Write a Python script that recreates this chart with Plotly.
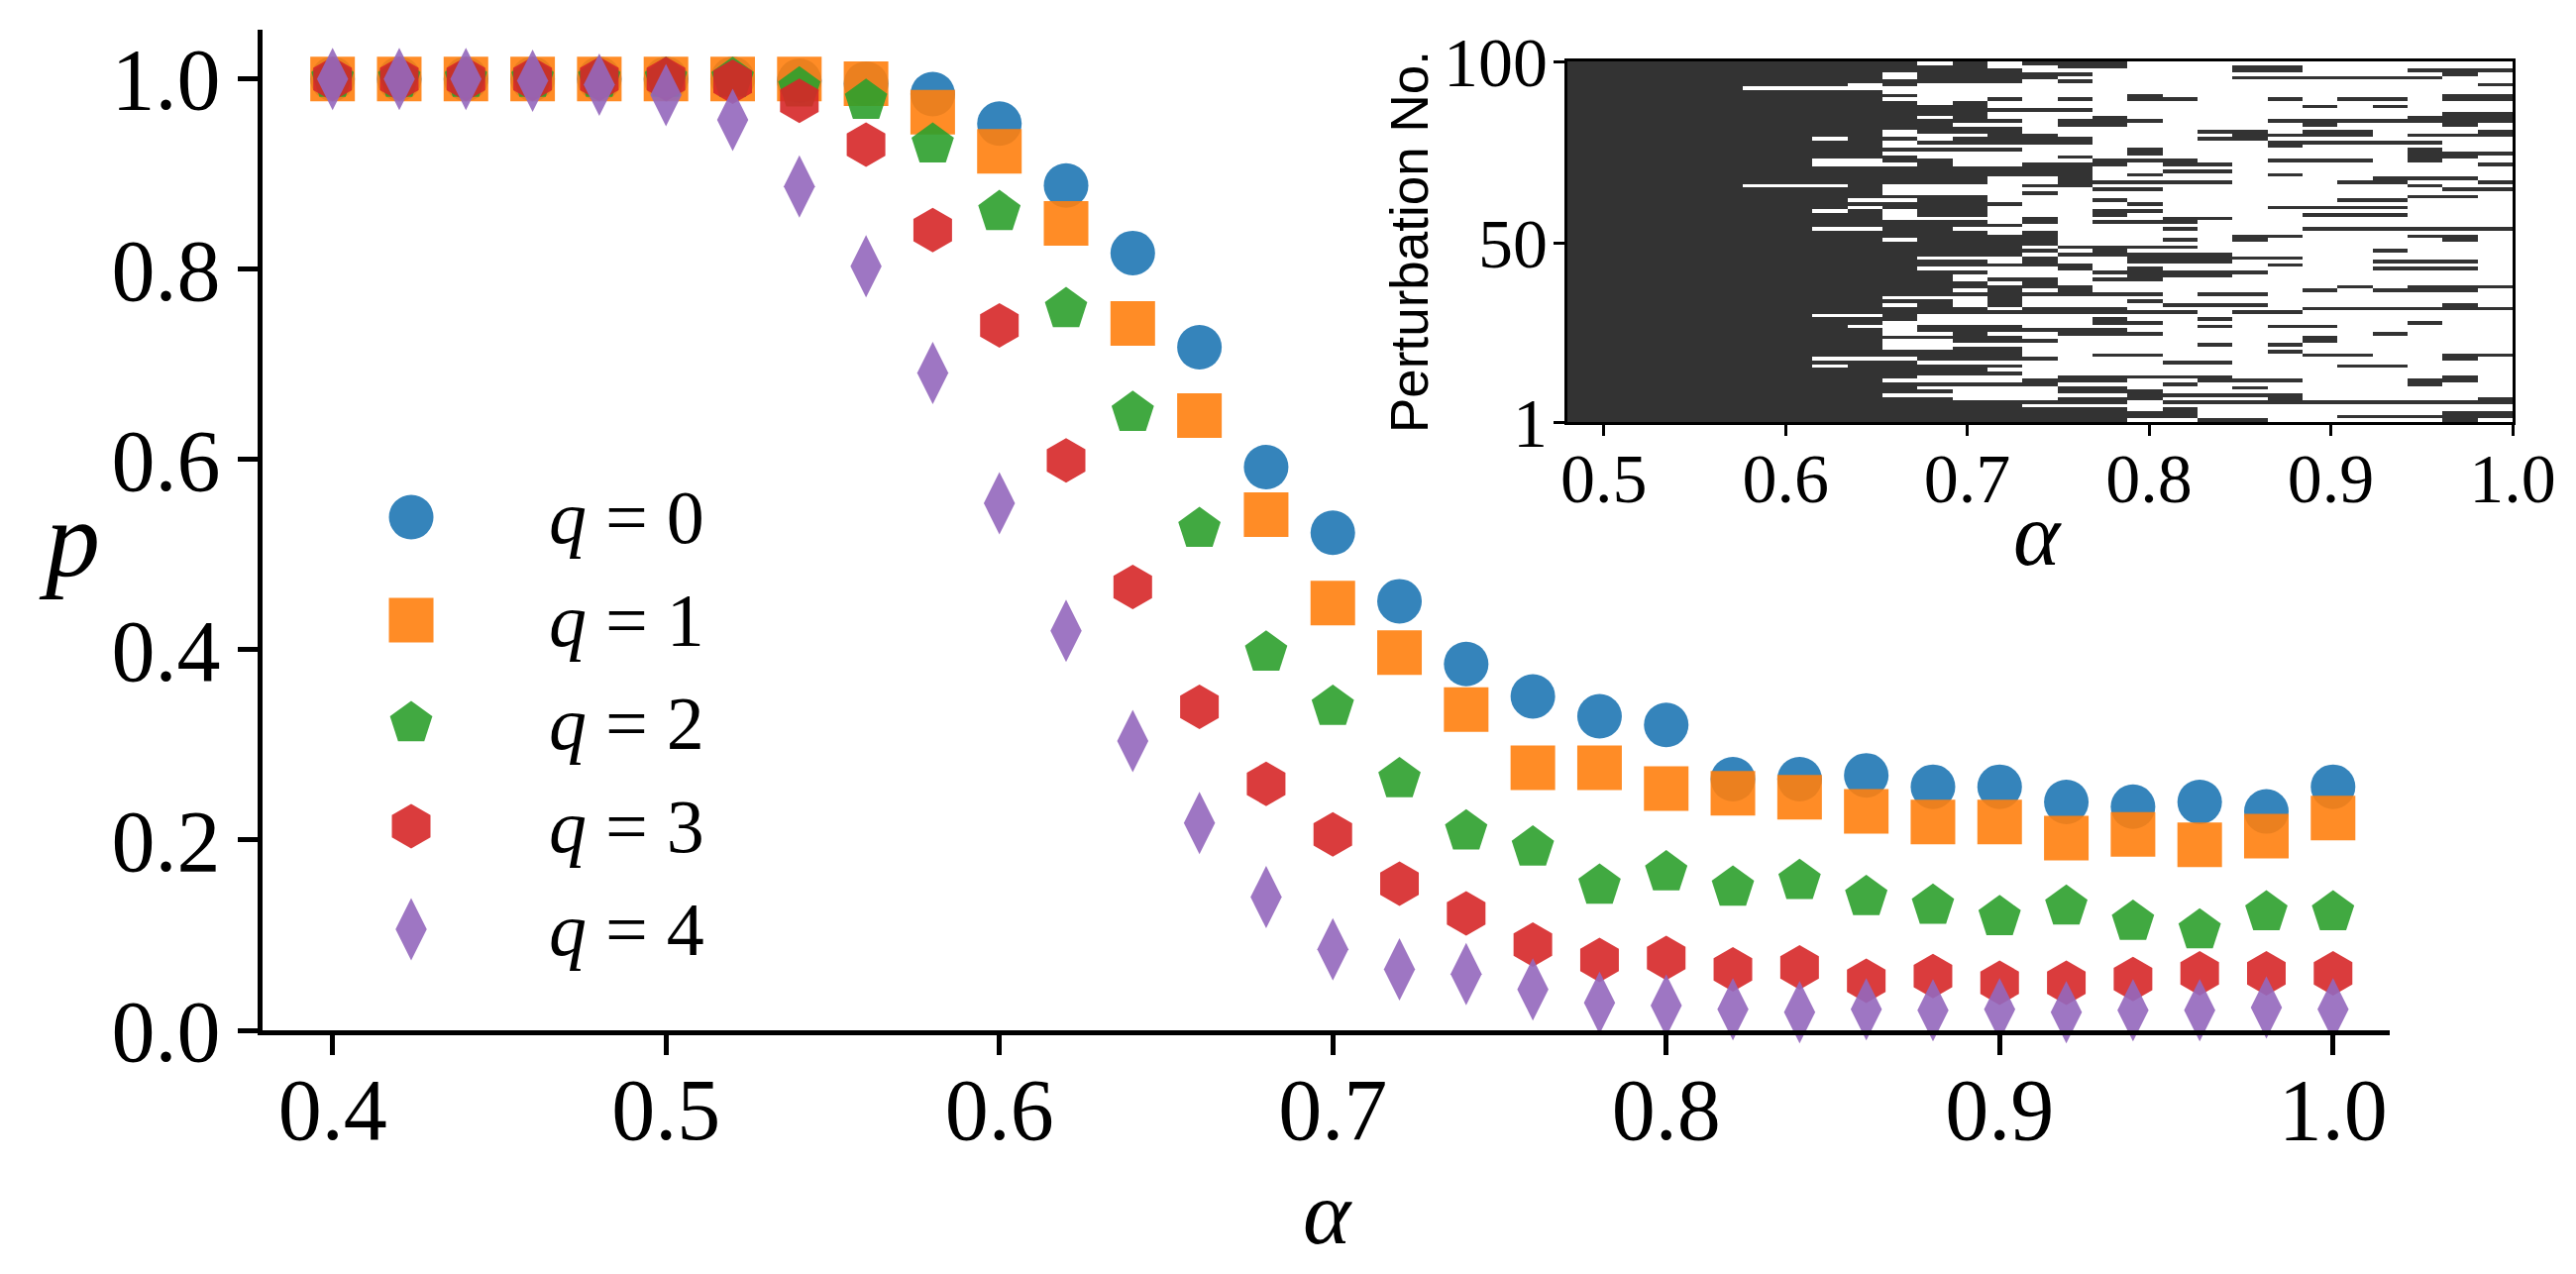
import numpy as np
import plotly.graph_objects as go

# ---------------- data ----------------
alpha = [0.40, 0.42, 0.44, 0.46, 0.48, 0.50, 0.52, 0.54, 0.56, 0.58, 0.60,
         0.62, 0.64, 0.66, 0.68, 0.70, 0.72, 0.74, 0.76, 0.78, 0.80,
         0.82, 0.84, 0.86, 0.88, 0.90, 0.92, 0.94, 0.96, 0.98, 1.00]

p_q0 = [1.0, 1.0, 1.0, 1.0, 1.0, 1.0, 1.0, 0.998, 0.995, 0.984, 0.953,
        0.888, 0.817, 0.718, 0.592, 0.523, 0.451, 0.385, 0.351, 0.330, 0.321,
        0.264, 0.264, 0.268, 0.256, 0.256, 0.240, 0.235, 0.240, 0.230, 0.256]
p_q1 = [1.0, 1.0, 1.0, 1.0, 1.0, 1.0, 1.0, 1.0, 0.995, 0.965, 0.924,
        0.848, 0.743, 0.646, 0.542, 0.449, 0.397, 0.337, 0.276, 0.276, 0.254,
        0.249, 0.245, 0.230, 0.219, 0.219, 0.202, 0.206, 0.195, 0.204, 0.223]
p_q2 = [1.0, 1.0, 1.0, 1.0, 1.0, 1.0, 1.0, 0.990, 0.977, 0.931, 0.860,
        0.758, 0.649, 0.527, 0.397, 0.340, 0.264, 0.209, 0.192, 0.152, 0.166,
        0.150, 0.157, 0.140, 0.131, 0.119, 0.130, 0.114, 0.105, 0.124, 0.124]
p_q3 = [1.0, 1.0, 1.0, 1.0, 1.0, 1.0, 0.997, 0.977, 0.931, 0.841, 0.741,
        0.599, 0.466, 0.340, 0.259, 0.206, 0.154, 0.123, 0.090, 0.074, 0.076,
        0.064, 0.066, 0.052, 0.057, 0.050, 0.050, 0.054, 0.060, 0.060, 0.060]
p_q4 = [1.0, 1.0, 1.0, 0.998, 0.994, 0.983, 0.957, 0.887, 0.803, 0.691, 0.554,
        0.420, 0.304, 0.218, 0.140, 0.085, 0.064, 0.059, 0.043, 0.029, 0.026,
        0.022, 0.019, 0.022, 0.021, 0.022, 0.019, 0.021, 0.021, 0.024, 0.022]

series_names = ["<i>q</i> = 0", "<i>q</i> = 1", "<i>q</i> = 2", "<i>q</i> = 3", "<i>q</i> = 4"]
series_values = [p_q0, p_q1, p_q2, p_q3, p_q4]

x_ticks = [0.4, 0.5, 0.6, 0.7, 0.8, 0.9, 1.0]
y_ticks = [0.0, 0.2, 0.4, 0.6, 0.8, 1.0]

# inset: 27 alpha columns spanning [0.48, 1.0]; rows listed from perturbation 100 (top) down to 1
inset_alpha_range = [0.48, 1.0]
inset_cols = 27
inset_x_ticks = [0.5, 0.6, 0.7, 0.8, 0.9, 1.0]
inset_y_ticks = [1, 50, 100]
inset_rows_top_down = [
    "11111" "1111101" "0111" "00000000000",
    "11111" "1111111" "0011" "00011000000",
    "11111" "1111111" "1000" "00011000111",
    "11111" "1111011" "1110" "00000000010",
    "11111" "1111011" "1100" "00011111100",
    "11111" "1111111" "1010" "00000000000",
    "11111" "1110100" "0000" "00000000001",
    "11111" "0000000" "0000" "00000000000",
    "11111" "1111000" "0000" "00000000000",
    "11111" "1111100" "0000" "10000000011",
    "11111" "1111000" "1010" "11001011011",
    "11111" "1111101" "0000" "00000000000",
    "11111" "1111111" "0000" "00000101000",
    "11111" "1111111" "1110" "00000000000",
    "11111" "1111111" "0000" "00000000011",
    "11111" "1111101" "0001" "00000000111",
    "11111" "1111111" "1011" "10001111111",
    "11111" "1111110" "0011" "00000100010",
    "11111" "1111111" "1000" "00000000000",
    "11111" "1111011" "1000" "00110110001",
    "11111" "1111000" "1100" "00011110111",
    "11111" "1101101" "1110" "00110000000",
    "11111" "1111011" "1110" "00001111100",
    "11111" "1111000" "0000" "00001000000",
    "11111" "1111111" "1000" "10000000100",
    "11111" "1111000" "0000" "10000000111",
    "11111" "1111100" "0010" "00000000110",
    "11111" "1100110" "0001" "11001110100",
    "11111" "1100010" "0111" "01100000001",
    "11111" "1111111" "1110" "00000000000",
    "11111" "1111111" "1110" "01100000000",
    "11111" "1111111" "1110" "10001000000",
    "11111" "1111111" "0010" "00000001110",
    "11111" "1111111" "0011" "11100011001",
    "11111" "0001000" "0110" "00000000100",
    "11111" "1111000" "0001" "10000000011",
    "11111" "1111000" "0100" "00000000000",
    "11111" "1111111" "0000" "00000000110",
    "11111" "1110011" "0001" "00000011000",
    "11111" "1111111" "1000" "10000000000",
    "11111" "1110111" "0000" "00001111000",
    "11111" "1101011" "0001" "10000000000",
    "11111" "1111011" "0001" "00000111000",
    "11111" "1111000" "0100" "01100000000",
    "11111" "1111111" "0101" "11000000000",
    "11111" "1111111" "1000" "00000000000",
    "11111" "1100110" "0000" "01000111111",
    "11111" "1111111" "0100" "00000000000",
    "11111" "1111111" "1100" "00011000110",
    "11111" "1111011" "1100" "01010000010",
    "11111" "1111111" "1100" "00000000000",
    "11111" "1111111" "1011" "11000000000",
    "11111" "1111111" "1101" "00000001000",
    "11111" "1111111" "1011" "11100000000",
    "11111" "1111100" "0100" "11111000000",
    "11111" "1111111" "0100" "11100001110",
    "11111" "1111111" "1110" "00001000000",
    "11111" "1111100" "0010" "10000001110",
    "11111" "1111111" "0001" "11110000000",
    "11111" "1111110" "0000" "11100000000",
    "11111" "1111110" "1101" "10000000000",
    "11111" "1111111" "0100" "00000000000",
    "11111" "1111111" "1110" "00000010111",
    "11111" "1111110" "1010" "00000101110",
    "11111" "1111111" "1111" "10110000000",
    "11111" "1111000" "1000" "00000000000",
    "11111" "1111110" "1000" "10000000000",
    "11111" "1111010" "1000" "01110000010",
    "11111" "1111111" "0111" "00000111111",
    "11111" "1111111" "1111" "11011000000",
    "11111" "1100100" "0000" "00000000000",
    "11111" "1111100" "0001" "00100000000",
    "11111" "1111000" "0001" "10000000100",
    "11111" "1110011" "1000" "00101100000",
    "11111" "1111011" "1111" "00000000000",
    "11111" "1111001" "0011" "10000001000",
    "11111" "1111111" "1000" "00000100000",
    "11111" "1111001" "1100" "00000100000",
    "11111" "1111000" "0000" "00101000000",
    "11111" "1111001" "1000" "00000000000",
    "11111" "1111111" "1000" "00001000000",
    "11111" "1111111" "1001" "10000110011",
    "11111" "1100011" "1100" "00000000010",
    "11111" "1111100" "0000" "01100000000",
    "11111" "1101111" "1000" "00000011000",
    "11111" "1111111" "0000" "00000000000",
    "11111" "1111111" "1000" "00000000000",
    "11111" "1111100" "0011" "11100000010",
    "11111" "1111000" "0111" "00111000110",
    "11111" "1111111" "1100" "01000000100",
    "11111" "1111100" "0011" "00010000000",
    "11111" "1111110" "0011" "10000000000",
    "11111" "1111000" "0000" "11111000000",
    "11111" "1111110" "0011" "10001000001",
    "11111" "1111111" "1111" "01111111111",
    "11111" "1111111" "1000" "00000000000",
    "11111" "1111111" "1111" "01000000000",
    "11111" "1111111" "1111" "11000000011",
    "11111" "1111111" "1111" "11000011111",
    "11111" "1111111" "1111" "00110000010",
]

# ---------------- styles ----------------
colors = ["#1f77b4", "#ff7f0e", "#2ca02c", "#d62728", "#9467bd"]
symbols = ["circle", "square", "pentagon", "hexagon", "diamond-tall"]
msize = 45
SERIF = "Liberation Serif"
SANS = "Liberation Sans"

W, H = 2600, 1286
OFF = 8                     # page body margin offset
# target plot-area edges in screenshot pixels
LEFT, RIGHT, TOP, BOTTOM = 265, 2540, 30, 1040
ML, MT = LEFT - OFF, TOP - OFF
MR = W - (RIGHT - OFF)
MB = H - (BOTTOM - OFF)
PW = RIGHT - LEFT
PH = BOTTOM - TOP


def px_x(px):
    return (px - LEFT) / PW


def px_y(py):
    return (BOTTOM - py) / PH


fig = go.Figure()

for name, vals, c, s in zip(series_names, series_values, colors, symbols):
    fig.add_trace(go.Scatter(
        x=alpha, y=vals, mode="markers", name=name,
        marker=dict(symbol=s, size=msize, color=c, opacity=0.9, line=dict(width=0)),
        cliponaxis=False, showlegend=False, xaxis="x", yaxis="y"))

# inset heatmap
z = np.array([[int(ch) for ch in row] for row in inset_rows_top_down[::-1]])
x_edges = np.linspace(inset_alpha_range[0], inset_alpha_range[1], inset_cols + 1)
y_edges = np.linspace(1, 100, len(inset_rows_top_down) + 1)
fig.add_trace(go.Heatmap(
    z=z, x=x_edges, y=y_edges, zmin=0, zmax=1,
    colorscale=[[0, "#ffffff"], [1, "#333333"]], showscale=False,
    xaxis="x2", yaxis="y2", hoverinfo="skip"))

# legend drawn with the same markers on a hidden helper axis
leg_idx = list(range(len(series_names)))
for i, (name, c, s) in enumerate(zip(series_names, colors, symbols)):
    fig.add_trace(go.Scatter(
        x=[0.103], y=[leg_idx[i]], mode="markers",
        marker=dict(symbol=s, size=msize, color=c, opacity=0.9, line=dict(width=0)),
        cliponaxis=False, showlegend=False, xaxis="x3", yaxis="y3"))
    fig.add_annotation(x=0.506, y=leg_idx[i], xref="x3", yref="y3", text=name,
                       showarrow=False, xanchor="left", yanchor="middle",
                       font=dict(family=SERIF, size=76, color="black"))

axis_common = dict(showline=True, linecolor="black", ticks="outside", tickcolor="black",
                   showgrid=False, zeroline=False, automargin=False)

fig.update_layout(
    width=W, height=H,
    margin=dict(l=ML, r=MR, t=MT, b=MB, autoexpand=False),
    paper_bgcolor="white", plot_bgcolor="white",
    showlegend=False,
    xaxis=dict(domain=[0, px_x(2412)], range=[0.379, 1.017], tickvals=x_ticks, tickformat=".1f",
               linewidth=5, ticklen=20, tickwidth=5, ticklabelstandoff=-21,
               tickfont=dict(family=SERIF, size=88, color="black"), anchor="y", **axis_common),
    yaxis=dict(domain=[0, 1], range=[0, 1.0517], tickvals=y_ticks, tickformat=".1f",
               linewidth=5, ticklen=20, tickwidth=5,
               tickfont=dict(family=SERIF, size=88, color="black"), anchor="x", **axis_common),
    xaxis2=dict(domain=[px_x(1582), px_x(2536)], range=inset_alpha_range, tickvals=inset_x_ticks,
                tickformat=".1f", linewidth=3, ticklen=11, tickwidth=3, mirror=True,
                ticklabelstandoff=-17,
                tickfont=dict(family=SERIF, size=70, color="black"), anchor="y2", **axis_common),
    yaxis2=dict(domain=[px_y(426), px_y(62)], range=[1, 100], tickvals=inset_y_ticks,
                linewidth=3, ticklen=11, tickwidth=3, mirror=True, ticklabelstandoff=-8,
                tickfont=dict(family=SERIF, size=70, color="black"), anchor="x2", **axis_common),
    xaxis3=dict(domain=[px_x(380), px_x(720)], range=[0, 1], visible=False, anchor="y3",
                fixedrange=True, automargin=False),
    yaxis3=dict(domain=[px_y(990), px_y(470)], range=[4.5, -0.5], visible=False, anchor="x3",
                fixedrange=True, automargin=False),
)

# axis titles
fig.add_annotation(x=px_x(70), y=px_y(545), xref="paper", yref="paper", text="<i>p</i>",
                   showarrow=False, xanchor="center", yanchor="middle",
                   font=dict(family=SERIF, size=110, color="black"))
fig.add_annotation(x=px_x(1340), y=px_y(1224), xref="paper", yref="paper", text="<i>α</i>",
                   showarrow=False, xanchor="center", yanchor="middle",
                   font=dict(family=SERIF, size=92, color="black"))
fig.add_annotation(x=px_x(1423), y=px_y(244), xref="paper", yref="paper", text="Perturbation No.",
                   showarrow=False, xanchor="center", yanchor="middle", textangle=-90,
                   font=dict(family=SANS, size=53, color="black"))
fig.add_annotation(x=px_x(2056), y=px_y(539), xref="paper", yref="paper", text="<i>α</i>",
                   showarrow=False, xanchor="center", yanchor="middle",
                   font=dict(family=SERIF, size=90, color="black"))

fig.write_html("out.html")
